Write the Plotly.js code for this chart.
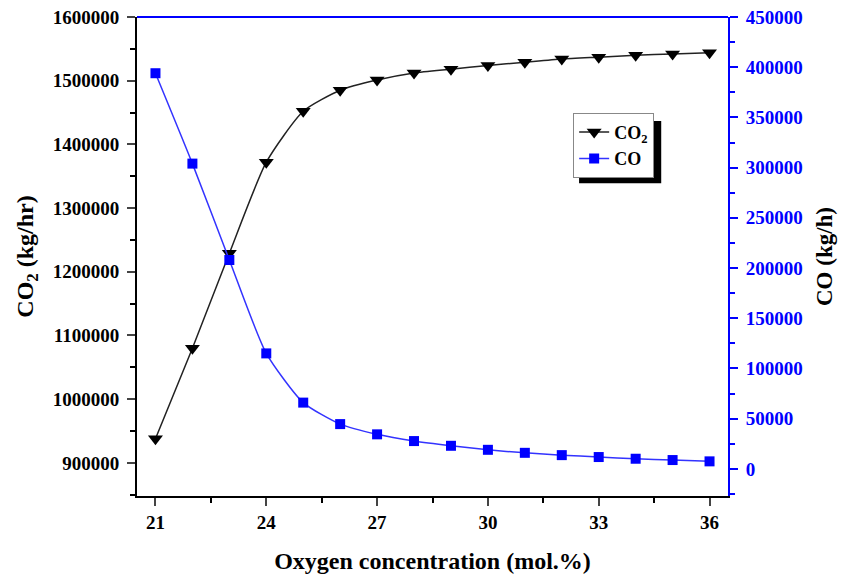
<!DOCTYPE html>
<html>
<head>
<meta charset="utf-8">
<script src="https://cdn.plot.ly/plotly-3.0.1.min.js"></script>
<style>html,body{margin:0;padding:0;background:#fff}#chart{width:841px;height:576px}</style>
</head>
<body>
<div id="chart"></div>
<script>
const oxygen = [21,22,23,24,25,26,27,28,29,30,31,32,33,34,35,36];
const co2 = [938000,1080000,1229000,1372000,1452000,1485000,1501000,1512000,1518000,1524000,1529000,1534000,1537000,1540000,1542000,1544000];
const co = [394000,304000,208000,115000,66000,44600,34400,27700,23000,19000,16000,13700,11800,10100,8800,7500];
const xTicks = [21,24,27,30,33,36];

const F = 'Liberation Serif, Times New Roman, serif';
const traces = [
  {x: oxygen, y: co2, name: 'CO<sub>2</sub>', type: 'scatter', mode: 'lines+markers',
   line: {color: '#222', width: 1.5, shape: 'spline', smoothing: 0.6},
   marker: {symbol: 'triangle-down', size: 13, color: '#000'}, yaxis: 'y'},
  {x: oxygen, y: co, name: 'CO', type: 'scatter', mode: 'lines+markers',
   line: {color: '#3333ff', width: 1.5, shape: 'spline', smoothing: 0.6},
   marker: {symbol: 'square', size: 10, color: '#0000ff'}, yaxis: 'y2'}
];
const layout = {
  width: 841, height: 576,
  margin: {l: 137, r: 113, t: 17, b: 80},
  paper_bgcolor: '#fff', plot_bgcolor: '#fff',
  font: {family: F, size: 18, color: '#000'},
  showlegend: true,
  legend: {x: 0.738, y: 0.80, xanchor: 'left', yanchor: 'top', bgcolor: '#fff',
    bordercolor: '#888', borderwidth: 1, font: {family: F, size: 18, color: '#000', weight: 'bold'},
    tracegroupgap: 0, itemwidth: 30},
  xaxis: {range: [20.5, 36.5], tickvals: xTicks, ticks: 'outside', ticklen: 8, tickwidth: 2,
    showline: true, linecolor: '#000', linewidth: 2, showgrid: false, zeroline: false,
    tickfont: {family: F, size: 19, color: '#000', weight: 'bold'},
    minor: {dtick: 1.5, ticks: 'outside', ticklen: 5, tickwidth: 2, tickcolor: '#000', showgrid: false},
    title: {text: 'Oxygen concentration (mol.%)', font: {family: F, size: 24, color: '#000', weight: 'bold'}, standoff: 20}},
  yaxis: {range: [848000, 1600000], dtick: 100000, ticks: 'outside', ticklen: 8, tickwidth: 2,
    showline: true, linecolor: '#000', linewidth: 2, showgrid: false, zeroline: false,
    tickformat: 'd', ticklabelstandoff: 4,
    tickfont: {family: F, size: 19, color: '#000', weight: 'bold'},
    minor: {dtick: 50000, ticks: 'outside', ticklen: 5, tickwidth: 2, tickcolor: '#000', showgrid: false},
    title: {text: 'CO<sub>2</sub> (kg/hr)', font: {family: F, size: 24, color: '#000', weight: 'bold'}, standoff: 12}},
  yaxis2: {range: [-27000, 450000], dtick: 50000, overlaying: 'y', side: 'right',
    ticks: 'outside', ticklen: 8, tickwidth: 2, tickcolor: '#0000ff',
    showline: true, linecolor: '#0000ff', linewidth: 2, showgrid: false, zeroline: false,
    tickformat: 'd', ticklabelstandoff: 4,
    tickfont: {family: F, size: 19, color: '#0000ff', weight: 'bold'},
    minor: {dtick: 25000, ticks: 'outside', ticklen: 5, tickwidth: 2, tickcolor: '#0000ff', showgrid: false},
    title: {text: 'CO (kg/h)', font: {family: F, size: 23, color: '#000', weight: 'bold'}, standoff: 14}},
  shapes: [
    {type: 'line', xref: 'paper', yref: 'paper', x0: 0, x1: 1, y0: 1, y1: 1, line: {color: '#0000ff', width: 2}},
    {type: 'rect', xref: 'paper', yref: 'paper', x0: 0.748, x1: 0.887, y0: 0.653, y1: 0.783,
     fillcolor: '#000', line: {width: 0}, layer: 'above'}
  ]
};
Plotly.newPlot('chart', traces, layout, {displayModeBar: false, staticPlot: true});
</script>
</body>
</html>
